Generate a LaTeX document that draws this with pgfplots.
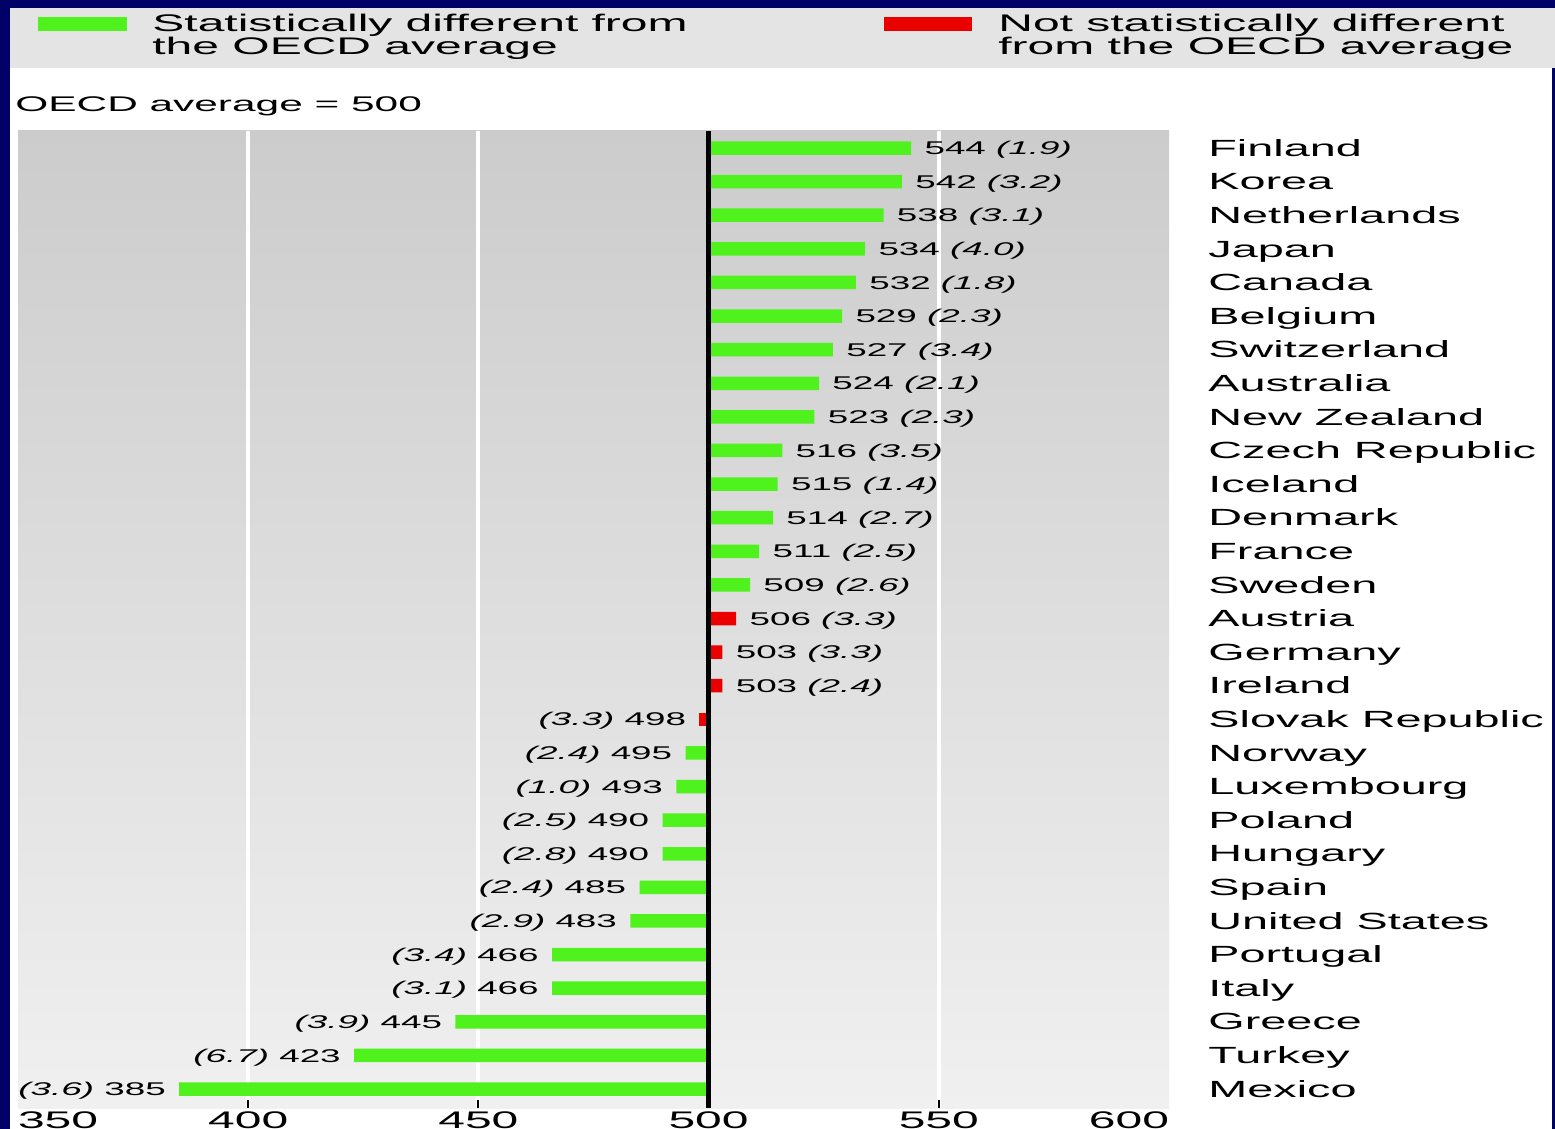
\documentclass[border=0pt]{standalone}
\usepackage{fontspec}
\setmainfont{Liberation Sans}[FakeStretch=2.0]
\usepackage{pgfplots}
\usepackage{pgfplotstable}
\pgfplotsset{compat=1.18}
\definecolor{navy}{RGB}{0,0,102}
\definecolor{sigGreen}{RGB}{80,242,30}
\definecolor{nsRed}{RGB}{235,0,0}
\definecolor{legGray}{RGB}{228,228,228}
\definecolor{panelTop}{RGB}{204,204,204}
\definecolor{panelBot}{RGB}{240,240,240}

\pgfplotstableread[col sep=comma]{
idx,score,se
0,544,1.9
1,542,3.2
2,538,3.1
3,534,4.0
4,532,1.8
5,529,2.3
6,527,3.4
7,524,2.1
8,523,2.3
9,516,3.5
10,515,1.4
11,514,2.7
12,511,2.5
13,509,2.6
}\greenpos

\pgfplotstableread[col sep=comma]{
idx,score,se
18,495,2.4
19,493,1.0
20,490,2.5
21,490,2.8
22,485,2.4
23,483,2.9
24,466,3.4
25,466,3.1
26,445,3.9
27,423,6.7
28,385,3.6
}\greenneg

\pgfplotstableread[col sep=comma]{
idx,score,se
14,506,3.3
15,503,3.3
16,503,2.4
}\redpos

\pgfplotstableread[col sep=comma]{
idx,score,se
17,498,3.3
}\redneg

\pgfplotsset{
  scorelab/.style={
    visualization depends on={\thisrow{score}\as\scval},
    visualization depends on={\thisrow{se}\as\seval},
  },
  poslab/.style={scorelab,
    point meta=\thisrow{se},
    nodes near coords={\pgfmathprintnumber[fixed,precision=0]{\scval} \textit{(\pgfmathprintnumber[fixed,fixed zerofill,precision=1]{\seval})}},
  },
  neglab/.style={scorelab,
    point meta={-\thisrow{se}},
    nodes near coords={\textit{(\pgfmathprintnumber[fixed,fixed zerofill,precision=1]{\seval})} \pgfmathprintnumber[fixed,precision=0]{\scval}\hspace{2.5pt}},
  },
}

\begin{document}
\begin{tikzpicture}
\useasboundingbox (0,0) rectangle (777.5pt,564.5pt);
\clip (0,0) rectangle (777.5pt,564.5pt);
\fill[navy] (0,0) rectangle (777.5pt,564.5pt);
\fill[white] (5pt,0) rectangle (776pt,560.5pt);
\fill[legGray] (5pt,530.5pt) rectangle (777.5pt,560.5pt);
% legend
\fill[sigGreen] (19pt,549pt) rectangle (63.5pt,556pt);
\fill[nsRed] (442pt,549pt) rectangle (486pt,556pt);
\begin{scope}[every node/.style={anchor=base west, inner sep=0pt, font=\fontsize{12}{14}\selectfont}]
\node at (76pt,548.5pt) {Statistically different from};
\node at (76pt,537pt) {the OECD average};
\node at (499pt,548.5pt) {Not statistically different};
\node at (499pt,537pt) {from the OECD average};
\end{scope}
\node[anchor=base west, inner sep=0pt, font=\fontsize{10.6}{12}\selectfont] at (7.5pt,508.5pt) {OECD average = 500};

\begin{axis}[
  at={(9pt,10.5pt)}, anchor=south west,
  scale only axis, width=575.5pt, height=488.5pt,
  xmin=-150, xmax=100, ymin=-0.506, ymax=28.565, y dir=reverse,
  clip=false,
  axis line style={draw=none},
  axis background/.style={top color=panelTop, bottom color=panelBot, draw=none},
  xtick={-100,-50,0,50}, xticklabels={400,450,500,550},
  extra x ticks={-150,100},
  extra x tick labels={\makebox[0pt][l]{350},\makebox[0pt][r]{600}},
  xtick pos=lower, major tick length=0pt,
  xtick style={draw=none},
  xticklabel style={anchor=north, inner sep=0pt, yshift=-1.5pt, font=\fontsize{12}{14}\selectfont},
  ytick={0,...,28},
  yticklabels={Finland,Korea,Netherlands,Japan,Canada,Belgium,Switzerland,Australia,New Zealand,Czech Republic,Iceland,Denmark,France,Sweden,Austria,Germany,Ireland,Slovak Republic,Norway,Luxembourg,Poland,Hungary,Spain,United States,Portugal,Italy,Greece,Turkey,Mexico},
  ytick pos=right, yticklabel pos=right,
  ytick style={draw=none},
  yticklabel style={anchor=base west, inner sep=0pt, xshift=19.5pt, yshift=-4.1pt, font=\fontsize{11.7}{13}\selectfont},
  /pgf/number format/assume math mode=true,
  xbar, bar shift=0pt, bar width=6.75pt,
  nodes near coords align=horizontal,
  every node near coord/.append style={font=\fontsize{9.2}{11}\selectfont, inner xsep=6.5pt, inner ysep=0pt, text height=6.6pt, text depth=0pt, text=black},
]
% white grid lines
\draw[white, line width=2pt] (axis cs:-100,-0.506) -- (axis cs:-100,28.565);
\draw[white, line width=2pt] (axis cs:-50,-0.506) -- (axis cs:-50,28.565);
\draw[white, line width=2pt] (axis cs:50,-0.506) -- (axis cs:50,28.565);
\addplot[fill=sigGreen, draw=none, poslab] table[x expr=\thisrow{score}-500, y=idx] {\greenpos};
\addplot[fill=sigGreen, draw=none, neglab] table[x expr=\thisrow{score}-500, y=idx] {\greenneg};
\addplot[fill=nsRed, draw=none, poslab] table[x expr=\thisrow{score}-500, y=idx] {\redpos};
\addplot[fill=nsRed, draw=none, neglab] table[x expr=\thisrow{score}-500, y=idx] {\redneg};
% short tick marks inside the bottom edge
\draw[black, line width=1pt] (axis cs:-100,28.565) -- ([yshift=4pt]axis cs:-100,28.565);
\draw[black, line width=1pt] (axis cs:-50,28.565) -- ([yshift=4pt]axis cs:-50,28.565);
\draw[black, line width=1pt] (axis cs:50,28.565) -- ([yshift=4pt]axis cs:50,28.565);
% OECD average line
\draw[black, line width=2.5pt] (axis cs:0,-0.506) -- (axis cs:0,28.565);
\end{axis}
\end{tikzpicture}
\end{document}
